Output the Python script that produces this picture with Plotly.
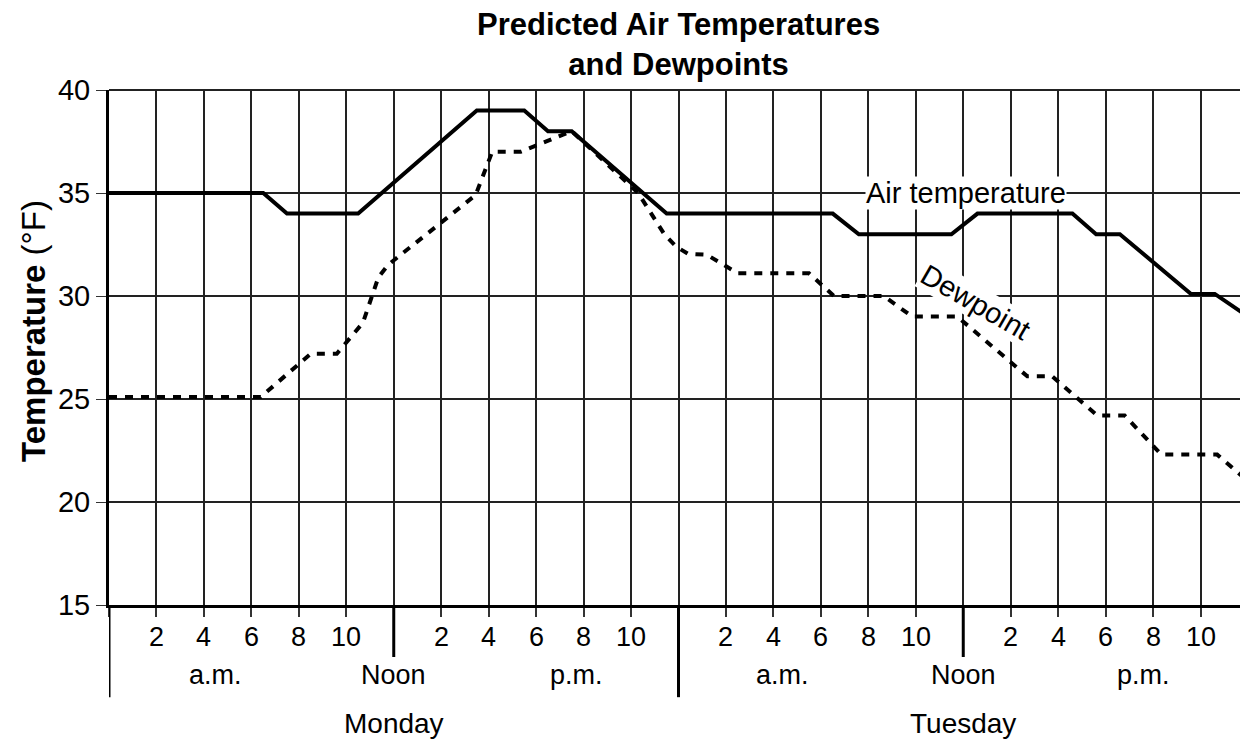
import plotly.graph_objects as go

# ---- data (hours from Monday midnight, °F) ----
air_hours = [0, 6.5, 7.5, 10.5, 15.5, 17.5, 18.5, 19.5, 23.5, 30.5, 31.6, 35.5, 36.6,
             40.6, 41.6, 42.6, 45.6, 46.6, 48]
air_temps = [35, 35, 34, 34, 39, 39, 38, 38, 34, 34, 33, 33, 34,
             34, 33, 33, 30.1, 30.1, 29]

dew_hours = [0, 6.4, 8.5, 9.6, 10.7, 11.1, 11.35, 11.75, 15.45, 16.15, 17.35, 19.5,
             22.3, 23.4, 23.9, 24.4, 25.2, 26.5, 29.5, 30.55, 32.65, 33.85, 35.75,
             38.7, 39.75, 41.65, 42.8, 44.35, 46.7, 48]
dew_temps = [25.1, 25.1, 27.2, 27.2, 28.7, 30.0, 30.9, 31.5, 34.9, 37.0, 37.0, 38.0,
             35.0, 33.0, 32.4, 32.05, 32.0, 31.1, 31.1, 30.0, 30.0, 29.0, 29.0,
             26.1, 26.1, 24.2, 24.2, 22.3, 22.3, 21.0]

y_ticks = [15, 20, 25, 30, 35, 40]
grid_hours = list(range(0, 49, 2))
hour_ticks = [2, 4, 6, 8, 10, 14, 16, 18, 20, 22, 26, 28, 30, 32, 34, 38, 40, 42, 44, 46]
hour_labels = ["2", "4", "6", "8", "10", "2", "4", "6", "8", "10",
               "2", "4", "6", "8", "10", "2", "4", "6", "8", "10"]
period_pos = [4.5, 12, 19.7, 28.4, 36, 43.6]
period_labels = ["a.m.", "Noon", "p.m.", "a.m.", "Noon", "p.m."]
day_pos = [12, 36]
day_labels = ["Monday", "Tuesday"]
noon_hours = [12, 36]
midnight_hours = [0, 24]

FONT = "Liberation Sans, Arial, Helvetica, sans-serif"
BLACK = "#000000"

fig = go.Figure()
fig.add_trace(go.Scatter(x=air_hours, y=air_temps, mode="lines",
                         line=dict(color=BLACK, width=4), hoverinfo="skip",
                         showlegend=False))
fig.add_trace(go.Scatter(x=dew_hours, y=dew_temps, mode="lines",
                         line=dict(color=BLACK, width=4, dash="8px,8px"),
                         hoverinfo="skip", showlegend=False))

annotations = []
for h, t in zip(hour_ticks, hour_labels):
    annotations.append(dict(x=h, y=0, xref="x", yref="paper", text=t, showarrow=False,
                            yanchor="middle", yshift=-32,
                            font=dict(family=FONT, size=27, color=BLACK)))
for h, t in zip(period_pos, period_labels):
    annotations.append(dict(x=h, y=0, xref="x", yref="paper", text=t, showarrow=False,
                            yanchor="middle", yshift=-70,
                            font=dict(family=FONT, size=27, color=BLACK)))
for h, t in zip(day_pos, day_labels):
    annotations.append(dict(x=h, y=0, xref="x", yref="paper", text=t, showarrow=False,
                            yanchor="middle", yshift=-118,
                            font=dict(family=FONT, size=28, color=BLACK)))

# line labels
annotations.append(dict(x=36.1, y=35, xref="x", yref="y", text="Air temperature",
                        showarrow=False, bgcolor="white", borderpad=0,
                        font=dict(family=FONT, size=29, color=BLACK)))
annotations.append(dict(x=36.5, y=29.7, xref="x", yref="y", text="Dewpoint",
                        showarrow=False, textangle=30, bgcolor="white", borderpad=0,
                        font=dict(family=FONT, size=29, color=BLACK)))

# title
annotations.append(dict(x=0.5, y=1, xref="paper", yref="paper",
                        text="<b>Predicted Air Temperatures<br>and Dewpoints</b>",
                        showarrow=False, yanchor="middle", yshift=46,
                        font=dict(family=FONT, size=31, color=BLACK)))
# y-axis title
annotations.append(dict(x=0, y=0.532, xref="paper", yref="paper",
                        text="<b>Temperature</b> (°F)", textangle=-90,
                        showarrow=False, xanchor="center", yanchor="middle", xshift=-76,
                        font=dict(family=FONT, size=33, color=BLACK)))

shapes = []
for h in midnight_hours:
    shapes.append(dict(type="line", xref="x", yref="paper", x0=h, x1=h, y0=0, y1=-0.179,
                       line=dict(color=BLACK, width=3)))
for h in noon_hours:
    shapes.append(dict(type="line", xref="x", yref="paper", x0=h, x1=h, y0=0, y1=-0.101,
                       line=dict(color=BLACK, width=3)))
shapes.append(dict(type="line", xref="paper", yref="paper", x0=0, x1=1, y0=1, y1=1,
                   line=dict(color="#222", width=2)))

# page body adds an 8px margin; size the figure so the plot lands where the reference has it
fig.update_layout(
    width=1240, height=732,
    margin=dict(l=101, r=0, t=82, b=135, autoexpand=False),
    paper_bgcolor="white", plot_bgcolor="white",
    font=dict(family=FONT, size=27, color=BLACK),
    annotations=annotations, shapes=shapes,
    xaxis=dict(range=[0, 48], tickmode="array", tickvals=grid_hours,
               showticklabels=False, ticks="outside", ticklen=9, tickwidth=1.5,
               tickcolor="#333", showgrid=True, gridcolor="#222", gridwidth=1.5,
               showline=True, linecolor=BLACK, linewidth=3, zeroline=False,
               fixedrange=True),
    yaxis=dict(range=[15, 40], tickmode="array", tickvals=y_ticks,
               ticks="outside", ticklen=10, tickwidth=1, tickcolor="#333",
               tickfont=dict(family=FONT, size=29, color=BLACK),
               showgrid=True, gridcolor="#222", gridwidth=1.5,
               showline=True, linecolor=BLACK, linewidth=3, zeroline=False,
               fixedrange=True),
)

fig.write_html("out.html")
